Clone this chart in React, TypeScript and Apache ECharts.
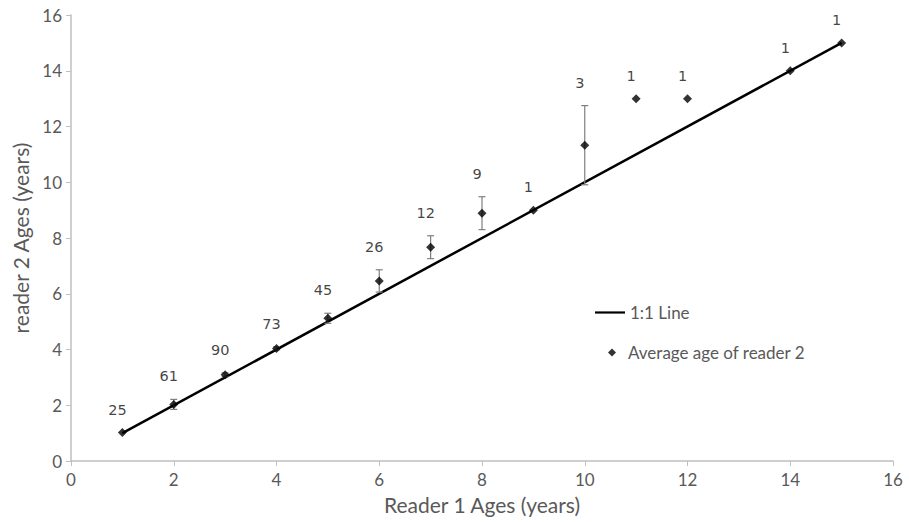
import React, { useEffect, useRef } from 'react';
import * as echarts from 'echarts';

const reader1Ages = [1, 2, 3, 4, 5, 6, 7, 8, 9, 10, 11, 12, 14, 15];
const reader2Mean = [1.02, 2.03, 3.09, 4.04, 5.12, 6.46, 7.67, 8.89, 9.0, 11.33, 13.0, 13.0, 14.0, 15.0];
const reader2Err = [0, 0.18, 0.07, 0.05, 0.18, 0.4, 0.41, 0.59, 0, 1.42, 0, 0, 0, 0];
const sampleCounts = [25, 61, 90, 73, 45, 26, 12, 9, 1, 3, 1, 1, 1, 1];
const oneToOneX = [1, 15];

const FONT = 'Lato, "Open Sans", sans-serif';
const LABEL_FONT = '"DejaVu Sans", Verdana, sans-serif';

export default function App() {
  const ref = useRef<HTMLDivElement>(null);
  useEffect(() => {
    if (!ref.current) return;
    const chart = echarts.init(ref.current, null, { renderer: 'svg' });
    const meanData = reader1Ages.map((x, i) => [x, reader2Mean[i]]);
    const errData = reader1Ages
      .map((x, i) => [x, reader2Mean[i] - reader2Err[i], reader2Mean[i] + reader2Err[i], reader2Err[i]])
      .filter((d) => d[3] > 0);
    const labelData = reader1Ages.map((x, i) => [x, reader2Mean[i] + reader2Err[i], sampleCounts[i]]);
    const legendText = { color: '#595959', fontSize: 17, fontFamily: FONT };
    chart.setOption({
      animation: false,
      textStyle: { fontFamily: FONT },
      grid: { left: 71, right: 16, top: 15, bottom: 61 },
      legend: [
        {
          orient: 'vertical',
          left: 595,
          top: 304,
          padding: 0,
          itemWidth: 30,
          itemHeight: 10,
          textStyle: legendText,
          data: [{ name: '1:1 Line', icon: 'path://M0,0 L34,0 L34,2.5 L0,2.5 Z' }],
        },
        {
          orient: 'vertical',
          left: 601,
          top: 344,
          padding: 0,
          itemWidth: 22,
          itemHeight: 8,
          textStyle: legendText,
          data: [
            {
              name: 'Average age of reader 2',
              icon: 'path://M0,4 L0.01,4 L0.01,4.01 Z M7,4 L11,0 L15,4 L11,8 Z M22,4 L21.99,4 L21.99,4.01 Z',
              itemStyle: { color: '#000' },
            },
          ],
        },
      ],
      xAxis: {
        type: 'value',
        min: 0,
        max: 16,
        interval: 2,
        name: 'Reader 1 Ages (years)',
        nameLocation: 'middle',
        nameGap: 33,
        nameTextStyle: { color: '#595959', fontSize: 21, fontFamily: FONT },
        axisLine: { show: true, lineStyle: { color: '#bfbfbf', width: 1.5 } },
        axisTick: { show: true, length: 5, lineStyle: { color: '#bfbfbf' } },
        axisLabel: { color: '#595959', fontSize: 17, margin: 10 },
        splitLine: { show: false },
      },
      yAxis: {
        type: 'value',
        min: 0,
        max: 16,
        interval: 2,
        name: 'reader 2 Ages (years)',
        nameLocation: 'middle',
        nameGap: 38,
        nameTextStyle: { color: '#595959', fontSize: 21, fontFamily: FONT },
        axisLine: { show: true, lineStyle: { color: '#bfbfbf', width: 1.5 } },
        axisTick: { show: true, length: 5, lineStyle: { color: '#bfbfbf' } },
        axisLabel: { color: '#595959', fontSize: 17, margin: 9 },
        splitLine: { show: false },
      },
      series: [
        {
          name: '1:1 Line',
          type: 'line',
          data: oneToOneX.map((v) => [v, v]),
          symbol: 'none',
          lineStyle: { color: '#000', width: 2.5 },
          itemStyle: { color: '#000' },
          z: 2,
        },
        {
          name: 'errors',
          type: 'custom',
          data: errData,
          z: 3,
          renderItem: (params: any, api: any) => {
            const x = api.value(0);
            const lo = api.coord([x, api.value(1)]);
            const hi = api.coord([x, api.value(2)]);
            const hw = 3.5;
            const style = { stroke: '#7f7f7f', lineWidth: 1.2 };
            return {
              type: 'group',
              children: [
                { type: 'line', shape: { x1: lo[0], y1: lo[1], x2: hi[0], y2: hi[1] }, style },
                { type: 'line', shape: { x1: lo[0] - hw, y1: lo[1], x2: lo[0] + hw, y2: lo[1] }, style },
                { type: 'line', shape: { x1: hi[0] - hw, y1: hi[1], x2: hi[0] + hw, y2: hi[1] }, style },
              ],
            };
          },
        },
        {
          name: 'Average age of reader 2',
          type: 'scatter',
          data: meanData,
          symbol: 'diamond',
          symbolSize: 9,
          itemStyle: { color: '#000' },
          z: 4,
        },
        {
          name: 'counts',
          type: 'scatter',
          data: labelData,
          symbolSize: 1,
          itemStyle: { color: 'rgba(0,0,0,0)' },
          z: 5,
          label: {
            show: true,
            position: 'inside',
            offset: [-5, -23],
            color: '#111',
            fontSize: 14.5,
            fontFamily: LABEL_FONT,
            formatter: (p: any) => String(p.value[2]),
          },
        },
      ],
    });
    return () => chart.dispose();
  }, []);
  return <div ref={ref} style={{ position: 'absolute', left: 0, top: 0, width: 909, height: 522 }} />;
}
